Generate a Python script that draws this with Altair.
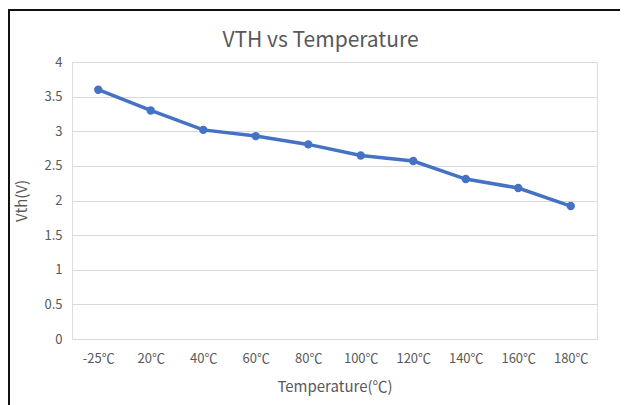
import altair as alt
import pandas as pd

temps = ["-25℃", "20℃", "40℃", "60℃", "80℃", "100℃", "120℃", "140℃", "160℃", "180℃"]
vth = [3.6, 3.3, 3.02, 2.93, 2.81, 2.65, 2.57, 2.31, 2.18, 1.92]

df = pd.DataFrame({"Temperature": temps, "Vth": vth})

FONT = "Noto Sans CJK SC"
GRAY = "#595959"

x = alt.X("Temperature:N", sort=temps,
          scale=alt.Scale(paddingInner=1, paddingOuter=0.5),
          axis=alt.Axis(title="Temperature(℃)", labelAngle=0, domain=False, ticks=False,
                        labelPadding=13, titlePadding=14, labelFontSize=13, titleFontSize=15,
                        labelColor=GRAY, titleColor=GRAY, labelFont=FONT, titleFont=FONT,
                        titleFontWeight="normal", grid=False))
y = alt.Y("Vth:Q", scale=alt.Scale(domain=[0, 4]),
          axis=alt.Axis(title="Vth(V)", values=[0, 0.5, 1, 1.5, 2, 2.5, 3, 3.5, 4],
                        format="~g",
                        domain=False, ticks=False, labelPadding=10, titlePadding=14,
                        labelFontSize=13, titleFontSize=15, labelColor=GRAY, titleColor=GRAY,
                        labelFont=FONT, titleFont=FONT, titleFontWeight="normal",
                        gridColor="#d9d9d9", gridWidth=1.2))

base = alt.Chart(df)
line = base.mark_line(color="#4472C4", strokeWidth=3.5).encode(x=x, y=y)
pts = base.mark_circle(color="#4472C4", size=70, opacity=1).encode(x=x, y=y)

frame = alt.Chart(df).mark_rect(fill=None, stroke="#111111", strokeWidth=2, clip=False).encode(
    x=alt.value(-63), x2=alt.value(640), y=alt.value(-52), y2=alt.value(420))

chart = alt.layer(frame, line, pts).properties(
    width=525, height=277,
    autosize=alt.AutoSizeParams(type="none"),
    padding={"left": 64, "top": 54, "right": 23, "bottom": 66},
    title=alt.Title("VTH vs Temperature", font=FONT, fontSize=21, fontWeight="normal",
                    color=GRAY, anchor="middle", dx=-14, dy=48, offset=6),
).configure_view(stroke="#333333", strokeWidth=1.5).configure(background="white")

chart.save("out.html", embed_options={"renderer": "svg", "actions": False})
